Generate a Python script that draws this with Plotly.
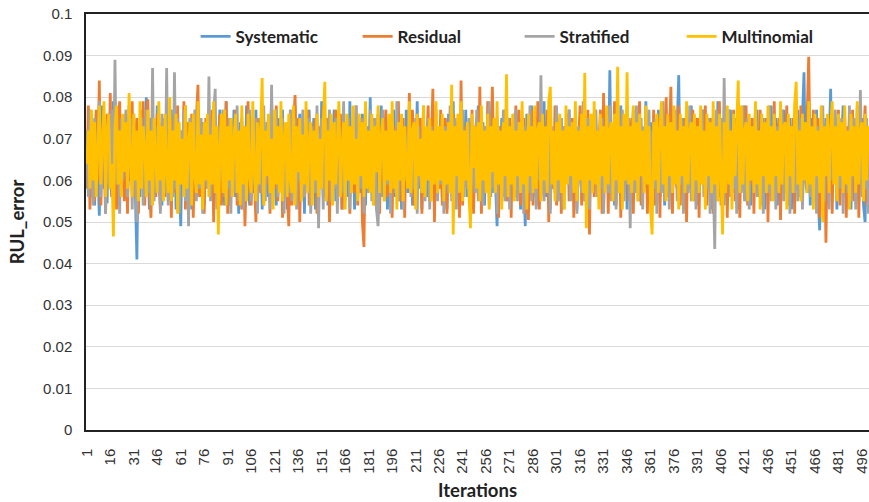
import plotly.graph_objects as go

# Iteration numbers (x categories)
iterations = list(range(1, 501))
tick_labels = list(range(1, 501, 15))

# RUL_error values, in units of 1e-4
systematic_e4 = [
    720, 600, 770, 560, 700, 540, 760, 640, 515, 720, 780, 580, 690, 545, 740, 610, 560, 790, 620, 720, 540, 750, 600, 680, 570,
    730, 550, 780, 600, 690, 760, 570, 410, 720, 560, 770, 620, 580, 800, 650, 530, 750, 600, 700, 560, 780, 600, 690, 540, 750,
    600, 740, 550, 690, 770, 570, 720, 530, 760, 620, 490, 710, 580, 780, 560, 690, 750, 530, 720, 600, 560, 770, 590, 690, 740,
    540, 720, 610, 760, 570, 690, 530, 750, 590, 700, 770, 550, 660, 540, 790, 590, 540, 730, 620, 770, 560, 700, 520, 740, 600,
    710, 570, 780, 600, 540, 730, 620, 570, 770, 550, 680, 750, 530, 720, 600, 740, 560, 690, 790, 580, 620, 540, 750, 600, 720,
    770, 560, 690, 530, 740, 600, 720, 570, 780, 550, 700, 760, 560, 690, 520, 730, 600, 770, 550, 690, 750, 530, 720, 610, 580,
    790, 560, 700, 750, 540, 720, 600, 680, 770, 550, 710, 580, 750, 530, 690, 610, 740, 560, 790, 590, 700, 530, 740, 600, 720,
    570, 760, 620, 540, 730, 590, 800, 570, 690, 750, 530, 720, 610, 780, 560, 690, 740, 530, 720, 600, 680, 770, 560, 700, 580,
    740, 530, 720, 610, 770, 570, 690, 750, 540, 730, 600, 790, 580, 700, 530, 750, 620, 560, 740, 600, 700, 770, 540, 720, 590,
    690, 750, 560, 730, 600, 530, 760, 690, 580, 790, 560, 700, 740, 540, 720, 610, 590, 770, 560, 700, 740, 530, 730, 620, 580,
    780, 560, 690, 740, 540, 730, 600, 680, 770, 570, 700, 590, 490, 730, 620, 750, 560, 690, 780, 550, 720, 600, 680, 760, 560,
    700, 750, 530, 730, 600, 490, 760, 620, 580, 780, 560, 700, 750, 540, 720, 610, 590, 790, 560, 690, 740, 530, 720, 620, 580,
    770, 550, 700, 750, 540, 730, 610, 680, 770, 570, 710, 590, 750, 530, 720, 620, 580, 780, 550, 690, 750, 540, 730, 600, 680,
    770, 560, 700, 600, 740, 530, 720, 760, 600, 865, 590, 720, 540, 750, 620, 580, 780, 560, 700, 750, 530, 730, 610, 690, 770,
    570, 710, 750, 550, 730, 600, 580, 790, 560, 700, 740, 530, 720, 620, 590, 770, 560, 690, 750, 540, 730, 610, 680, 780, 570,
    700, 600, 740, 853, 570, 690, 750, 530, 730, 620, 580, 780, 560, 700, 750, 540, 730, 600, 690, 770, 560, 710, 590, 750, 530,
    730, 620, 580, 790, 560, 700, 750, 540, 720, 610, 690, 770, 570, 710, 590, 750, 530, 730, 620, 580, 780, 550, 700, 750, 540,
    730, 600, 690, 770, 560, 710, 590, 750, 530, 730, 620, 580, 780, 560, 700, 750, 540, 720, 610, 690, 770, 570, 710, 590, 750,
    530, 730, 620, 580, 770, 560, 700, 750, 860, 600, 570, 720, 540, 750, 620, 580, 770, 560, 480, 730, 610, 690, 750, 540, 720,
    820, 580, 700, 750, 530, 730, 600, 690, 780, 560, 710, 590, 750, 530, 730, 620, 580, 780, 550, 700, 750, 540, 500, 730, 620,
]

residual_e4 = [
    580, 780, 530, 740, 690, 550, 770, 600, 840, 540, 730, 680, 520, 760, 600, 810, 560, 700, 750, 530, 720, 790, 580, 690, 550,
    760, 520, 730, 600, 790, 560, 690, 750, 520, 720, 590, 790, 540, 700, 795, 580, 510, 730, 620, 560, 760, 600, 530, 740, 620,
    560, 770, 590, 700, 510, 750, 620, 570, 780, 540, 720, 600, 790, 530, 740, 610, 580, 760, 510, 700, 750, 830, 560, 690, 730,
    520, 750, 600, 700, 560, 770, 500, 730, 620, 580, 760, 540, 720, 600, 790, 520, 700, 750, 570, 620, 770, 540, 720, 590, 530,
    730, 490, 620, 790, 580, 540, 720, 600, 500, 750, 620, 570, 770, 540, 710, 590, 750, 520, 730, 610, 580, 780, 550, 700, 750,
    510, 720, 600, 580, 490, 770, 540, 730, 805, 570, 750, 500, 700, 740, 560, 620, 770, 540, 720, 590, 690, 750, 520, 730, 600,
    580, 780, 560, 700, 750, 500, 730, 610, 580, 770, 550, 700, 760, 530, 720, 600, 690, 750, 520, 730, 620, 570, 780, 540, 710,
    750, 500, 440, 730, 610, 580, 720, 600, 750, 540, 700, 760, 520, 730, 600, 690, 770, 560, 700, 750, 510, 730, 600, 580, 790,
    550, 690, 750, 510, 730, 620, 810, 580, 770, 540, 720, 600, 690, 750, 520, 730, 590, 680, 780, 550, 700, 820, 500, 730, 610,
    580, 770, 540, 710, 750, 520, 730, 600, 690, 760, 550, 700, 750, 510, 840, 540, 730, 590, 720, 620, 580, 770, 520, 710, 750,
    560, 825, 520, 730, 600, 580, 790, 540, 720, 825, 600, 690, 750, 510, 730, 590, 690, 770, 550, 700, 750, 510, 730, 620, 780,
    580, 770, 540, 710, 750, 520, 730, 505, 690, 770, 540, 720, 590, 790, 530, 700, 750, 570, 620, 770, 500, 730, 610, 580, 780,
    540, 710, 750, 520, 730, 600, 690, 760, 550, 700, 750, 510, 730, 590, 680, 780, 540, 720, 600, 580, 770, 470, 710, 750, 560,
    730, 600, 690, 770, 520, 810, 590, 750, 520, 730, 610, 580, 790, 540, 710, 750, 510, 730, 600, 690, 770, 550, 700, 750, 520,
    730, 590, 690, 790, 540, 720, 600, 750, 520, 730, 610, 580, 770, 540, 710, 750, 510, 730, 600, 690, 800, 560, 700, 825, 520,
    730, 600, 580, 780, 540, 720, 610, 750, 500, 730, 620, 580, 770, 550, 700, 750, 510, 730, 600, 690, 780, 540, 720, 590, 750,
    520, 730, 610, 580, 790, 540, 720, 600, 750, 510, 730, 620, 580, 770, 550, 700, 750, 510, 730, 600, 690, 780, 540, 720, 590,
    750, 520, 730, 610, 580, 770, 540, 720, 600, 750, 500, 730, 620, 580, 790, 550, 700, 750, 505, 730, 600, 690, 780, 540, 720,
    590, 750, 520, 730, 610, 580, 780, 540, 720, 600, 750, 897, 620, 580, 770, 550, 700, 750, 510, 730, 600, 690, 450, 720, 590,
    750, 520, 730, 610, 580, 770, 540, 720, 600, 750, 510, 730, 620, 580, 770, 550, 700, 750, 510, 730, 600, 690, 780, 540, 720,
]

stratified_e4 = [
    720, 560, 770, 620, 540, 750, 590, 700, 790, 560, 690, 750, 520, 730, 600, 580, 770, 550, 890, 590, 720, 520, 750, 600, 700,
    770, 560, 700, 750, 530, 730, 600, 500, 720, 580, 750, 540, 700, 770, 570, 690, 540, 870, 550, 730, 600, 700, 520, 760, 620,
    570, 870, 540, 720, 600, 560, 860, 580, 750, 520, 720, 600, 770, 550, 700, 490, 750, 600, 690, 770, 550, 720, 580, 750, 520,
    730, 610, 580, 850, 550, 700, 750, 820, 530, 730, 600, 690, 770, 560, 710, 580, 750, 520, 730, 610, 570, 780, 550, 700, 750,
    530, 730, 600, 690, 770, 550, 710, 590, 750, 520, 730, 610, 570, 780, 550, 700, 750, 530, 830, 600, 690, 770, 560, 720, 580,
    750, 520, 730, 610, 570, 770, 550, 700, 750, 530, 730, 600, 690, 770, 560, 710, 580, 750, 520, 730, 610, 570, 780, 485, 700,
    750, 530, 730, 600, 690, 770, 550, 720, 580, 750, 520, 730, 610, 570, 790, 550, 700, 750, 530, 730, 600, 690, 780, 560, 710,
    580, 750, 520, 730, 610, 570, 770, 550, 700, 750, 530, 490, 600, 690, 770, 550, 710, 590, 750, 520, 730, 610, 570, 790, 550,
    700, 750, 530, 730, 600, 690, 770, 560, 710, 580, 750, 520, 730, 610, 570, 780, 550, 700, 750, 530, 730, 600, 690, 770, 550,
    710, 590, 750, 520, 730, 610, 570, 780, 550, 700, 750, 530, 730, 600, 690, 770, 560, 720, 580, 750, 520, 730, 610, 570, 770,
    550, 700, 750, 540, 730, 600, 690, 790, 560, 710, 580, 750, 520, 730, 610, 570, 770, 550, 700, 750, 530, 730, 600, 690, 770,
    550, 710, 590, 750, 520, 730, 610, 570, 780, 550, 700, 750, 530, 730, 600, 853, 600, 550, 710, 590, 750, 520, 730, 610, 570,
    780, 550, 700, 750, 530, 730, 600, 690, 770, 550, 720, 580, 750, 520, 730, 610, 570, 790, 550, 700, 750, 530, 730, 600, 690,
    770, 560, 710, 580, 750, 520, 730, 610, 570, 780, 550, 700, 750, 530, 730, 600, 690, 770, 550, 710, 590, 750, 485, 730, 610,
    570, 780, 550, 700, 750, 530, 730, 600, 690, 770, 560, 720, 580, 750, 520, 730, 610, 570, 790, 550, 700, 750, 530, 730, 600,
    690, 770, 550, 710, 590, 750, 520, 730, 610, 570, 780, 550, 700, 750, 530, 730, 600, 690, 770, 560, 710, 580, 750, 520, 730,
    610, 435, 770, 550, 700, 750, 530, 846, 600, 690, 770, 560, 720, 580, 750, 520, 730, 610, 570, 780, 550, 700, 750, 530, 730,
    600, 690, 770, 560, 710, 580, 750, 520, 730, 610, 570, 780, 550, 700, 750, 530, 730, 600, 690, 770, 550, 710, 590, 750, 520,
    730, 610, 570, 790, 550, 700, 750, 530, 730, 600, 690, 770, 560, 720, 580, 750, 520, 730, 610, 570, 780, 550, 700, 750, 530,
    730, 600, 690, 770, 550, 720, 580, 750, 520, 730, 610, 570, 780, 550, 700, 750, 530, 730, 600, 817, 560, 720, 580, 750, 520,
]

multinomial_e4 = [
    640, 720, 580, 770, 600, 740, 560, 700, 780, 590, 680, 790, 560, 720, 760, 580, 640, 465, 730, 780, 590, 720, 560, 760, 620,
    740, 580, 810, 640, 560, 760, 600, 720, 550, 790, 580, 730, 680, 560, 770, 600, 720, 540, 750, 650, 570, 790, 600, 730, 550,
    760, 620, 570, 800, 550, 720, 600, 760, 520, 740, 590, 700, 560, 780, 580, 690, 740, 540, 760, 610, 570, 790, 590, 710, 530,
    740, 600, 760, 560, 710, 590, 790, 570, 730, 470, 680, 760, 570, 770, 540, 730, 600, 750, 560, 700, 760, 570, 720, 540, 780,
    590, 730, 550, 760, 610, 570, 790, 620, 550, 740, 590, 710, 846, 540, 720, 610, 760, 570, 700, 530, 770, 590, 730, 570, 790,
    550, 700, 740, 560, 760, 600, 570, 780, 540, 730, 620, 750, 550, 710, 590, 790, 570, 690, 740, 540, 720, 600, 760, 560, 700,
    580, 740, 837, 550, 720, 600, 760, 540, 740, 590, 720, 790, 560, 680, 740, 530, 760, 600, 730, 570, 780, 590, 700, 550, 760,
    610, 740, 560, 790, 580, 720, 570, 760, 540, 730, 620, 780, 570, 700, 750, 550, 720, 600, 760, 570, 790, 580, 720, 530, 740,
    600, 760, 550, 730, 620, 580, 790, 570, 720, 740, 530, 760, 610, 700, 570, 780, 560, 730, 600, 750, 550, 720, 590, 790, 570,
    730, 600, 760, 550, 720, 590, 740, 570, 830, 470, 730, 610, 760, 570, 790, 550, 720, 600, 740, 570, 485, 760, 630, 730, 580,
    740, 550, 780, 600, 720, 570, 760, 530, 730, 620, 750, 570, 790, 590, 720, 530, 740, 610, 855, 560, 730, 590, 760, 550, 720,
    610, 740, 570, 790, 590, 720, 530, 760, 610, 730, 570, 780, 580, 720, 740, 550, 760, 600, 730, 570, 790, 825, 590, 720, 550,
    740, 600, 760, 570, 720, 530, 780, 590, 730, 610, 740, 570, 790, 550, 720, 600, 760, 570, 858, 485, 730, 600, 760, 570, 790,
    590, 720, 530, 760, 610, 730, 570, 780, 590, 720, 740, 550, 760, 600, 873, 570, 730, 530, 760, 600, 860, 590, 730, 570, 780,
    600, 740, 550, 760, 610, 720, 570, 780, 590, 730, 530, 470, 740, 600, 760, 570, 720, 790, 590, 730, 550, 760, 610, 740, 570,
    780, 590, 720, 530, 760, 610, 730, 570, 790, 590, 720, 740, 550, 760, 600, 730, 570, 780, 590, 720, 530, 760, 610, 740, 570,
    790, 590, 730, 550, 760, 610, 470, 740, 570, 780, 590, 720, 530, 760, 610, 730, 840, 570, 780, 590, 720, 740, 550, 760, 600,
    730, 570, 790, 590, 720, 530, 760, 610, 740, 570, 780, 590, 730, 550, 760, 610, 720, 570, 790, 590, 730, 740, 530, 760, 610,
    730, 570, 780, 837, 590, 720, 550, 760, 600, 740, 570, 790, 590, 730, 530, 760, 610, 720, 570, 780, 500, 730, 610, 760, 570,
    720, 790, 590, 730, 550, 760, 610, 740, 570, 780, 590, 720, 530, 760, 610, 730, 570, 790, 590, 720, 740, 550, 760, 600, 730,
]

for arr in (systematic_e4, residual_e4, stratified_e4, multinomial_e4):
    assert len(arr) == 500, len(arr)

series_names = ["Systematic", "Residual", "Stratified", "Multinomial"]
series_colors = ["#5B9BD5", "#ED7D31", "#A5A5A5", "#FFC000"]
series_values = [
    [v / 1e4 for v in systematic_e4],
    [v / 1e4 for v in residual_e4],
    [v / 1e4 for v in stratified_e4],
    [v / 1e4 for v in multinomial_e4],
]

y_ticks = [0, 0.01, 0.02, 0.03, 0.04, 0.05, 0.06, 0.07, 0.08, 0.09, 0.1]
y_tick_text = ["0", "0.01", "0.02", "0.03", "0.04", "0.05", "0.06", "0.07", "0.08", "0.09", "0.1"]

fig = go.Figure()
for name, vals, color in zip(series_names, series_values, series_colors):
    fig.add_trace(go.Scatter(
        x=iterations, y=vals, mode="lines", name=name,
        line=dict(color=color, width=2.8),
    ))

bold_font = "Lato, 'Open Sans', sans-serif"
tick_font = "'Liberation Sans', Arial, sans-serif"

fig.update_layout(
    width=869, height=502,
    margin=dict(l=86, r=0, t=14, b=72),
    plot_bgcolor="white", paper_bgcolor="white",
    showlegend=True,
    legend=dict(
        orientation="h", x=0.140, xanchor="left", y=0.945, yanchor="middle",
        font=dict(family=bold_font, size=17, color="#222222", weight="bold"),
        bgcolor="rgba(0,0,0,0)",
        entrywidth=117, entrywidthmode="pixels",
    ),
    xaxis=dict(
        range=[0.5, 500.5], automargin=False,
        tickmode="array", tickvals=tick_labels, ticktext=[str(t) for t in tick_labels],
        tickangle=-90, ticklabeloverflow="allow",
        tickfont=dict(family=tick_font, size=15, color="#333333"),
        showgrid=False, zeroline=False,
        showline=True, linecolor="#222222", linewidth=1.5, mirror=True,
        ticks="", ticklabelstandoff=11,
        title=dict(text="Iterations", font=dict(family=bold_font, size=18.5, color="#222222", weight="bold"), standoff=11),
    ),
    yaxis=dict(
        range=[0, 0.1], automargin=False,
        tickmode="array", tickvals=y_ticks, ticktext=y_tick_text,
        tickfont=dict(family=tick_font, size=15, color="#333333"),
        showgrid=True, gridcolor="#D9D9D9", gridwidth=1, zeroline=False,
        showline=True, linecolor="#222222", linewidth=1.5,
        ticks="", ticklabelstandoff=9,
        title=dict(text="RUL_error", font=dict(family=bold_font, size=18.5, color="#222222", weight="bold"), standoff=14),
    ),
)

fig.write_html("out.html", config={"displayModeBar": False},
               post_script="document.body.style.margin='0';")
